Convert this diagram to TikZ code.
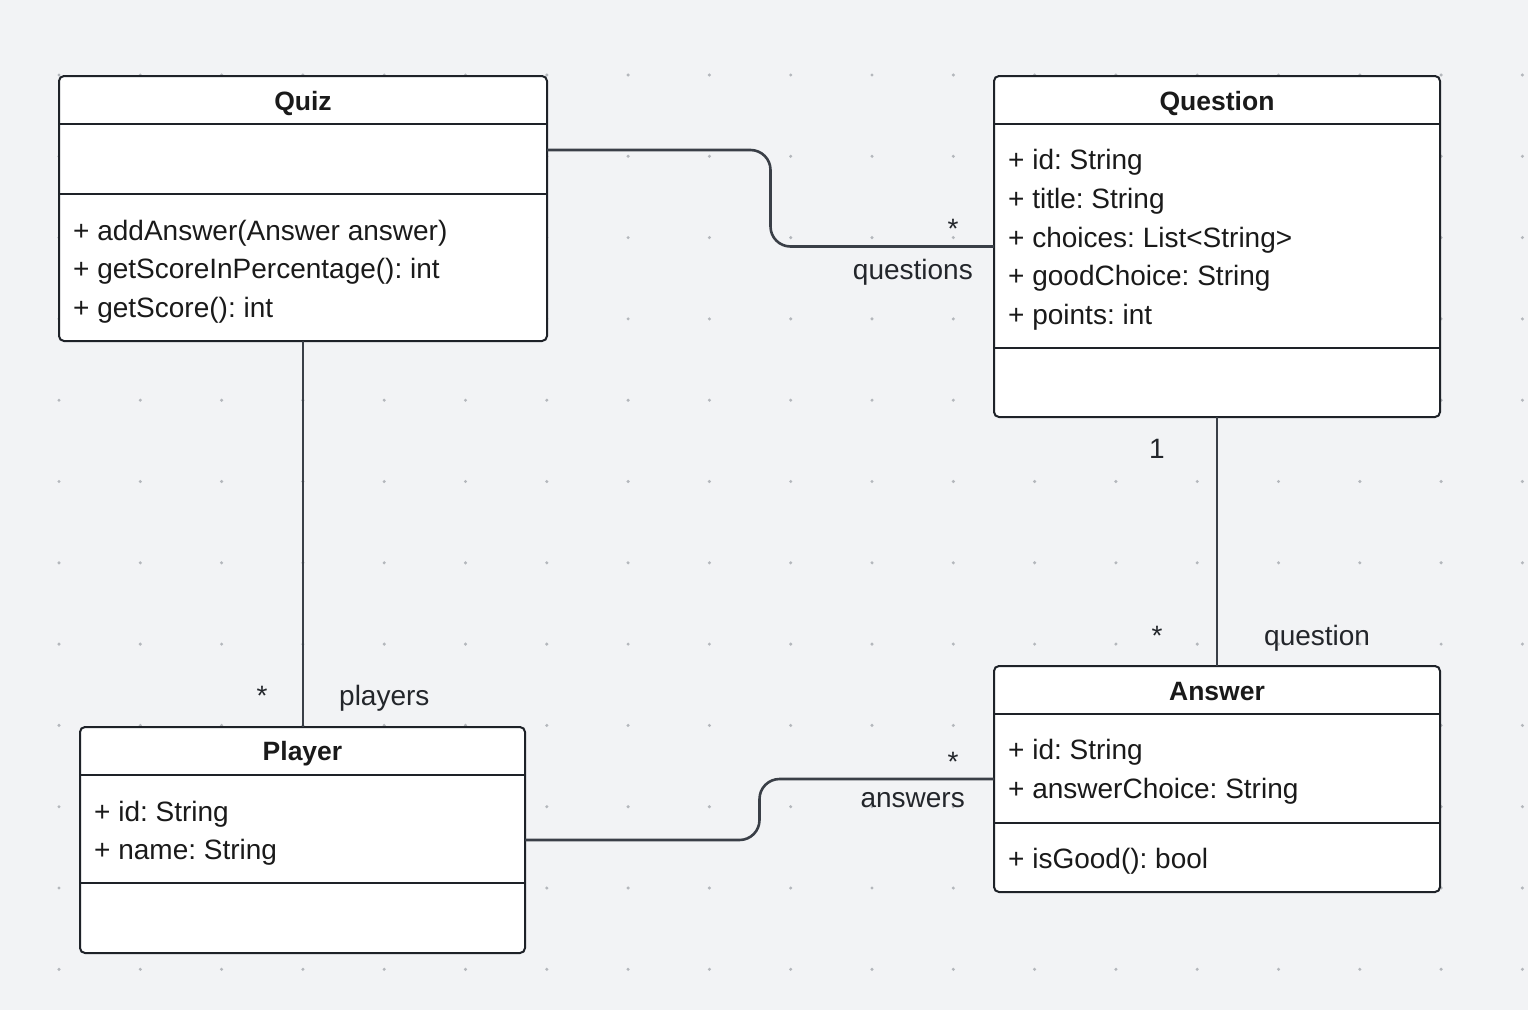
\documentclass[tikz,border=0pt]{standalone}
\usepackage{fontspec}
\setmainfont{Liberation Sans}
\usetikzlibrary{positioning,calc}
\frenchspacing
\definecolor{bgColor}{HTML}{F2F3F5}
\definecolor{dotColor}{HTML}{B4B7BC}
\definecolor{boxColor}{HTML}{1E2228}
\definecolor{lnColor}{HTML}{3A3F47}
\definecolor{txtColor}{HTML}{1A1A1A}
\tikzset{
	classbox/.style={draw=boxColor, fill=white, line width=2pt, rounded corners=5pt, inner sep=0, outer sep=0},
	sep/.style={draw=boxColor, line width=2pt},
	title/.style={anchor=base, inner sep=0, font=\fontsize{26.5}{30}\selectfont\bfseries, text=txtColor},
	member/.style={anchor=base west, inner sep=0, font=\fontsize{28}{34}\selectfont, text=txtColor},
	mult/.style={anchor=base, inner sep=0, font=\fontsize{28}{34}\selectfont, text=lnColor!60!black},
	assoc/.style={draw=lnColor, line width=2.6pt, rounded corners=20pt}
}

\begin{document}
\begin{tikzpicture}[x=1pt, y=-1pt]
	\fill[bgColor] (0,0) rectangle (1528,1010);
	\useasboundingbox (0,0) rectangle (1528,1010);
	\foreach \i in {0,...,18}
		\foreach \j in {0,...,11}
			\fill[dotColor] (59+81.3*\i, 75+81.3*\j) circle (1.7);
	% classes
	\node[classbox, minimum width=488, minimum height=265] (quiz) at (303,208.5) {};
	\draw[sep] ([yshift=-48pt]quiz.north west) -- ([yshift=-48pt]quiz.north east);
	\draw[sep] ([yshift=-118pt]quiz.north west) -- ([yshift=-118pt]quiz.north east);
	\node[title] (quizname) at (303,110) {Quiz};
	\node[member] (quizop1) at (73,240) {+ addAnswer(Answer answer)};
	\node[member] (quizop2) at (73,278.5) {+ getScoreInPercentage(): int};
	\node[member] (quizop3) at (73,317) {+ getScore(): int};

	\node[classbox, minimum width=446, minimum height=341] (question) at (1217,246.5) {};
	\draw[sep] ([yshift=-48pt]question.north west) -- ([yshift=-48pt]question.north east);
	\draw[sep] ([yshift=-272pt]question.north west) -- ([yshift=-272pt]question.north east);
	\node[title] (questionname) at (1217,110) {Question};
	\node[member] (questionat1) at (1008,169) {+ id: String};
	\node[member] (questionat2) at (1008,208) {+ title: String};
	\node[member] (questionat3) at (1008,247) {+ choices: List<String>};
	\node[member] (questionat4) at (1008,285) {+ goodChoice: String};
	\node[member] (questionat5) at (1008,324) {+ points: int};

	\node[classbox, minimum width=445, minimum height=226] (player) at (302.5,840) {};
	\draw[sep] ([yshift=-48pt]player.north west) -- ([yshift=-48pt]player.north east);
	\draw[sep] ([yshift=-156pt]player.north west) -- ([yshift=-156pt]player.north east);
	\node[title] (playername) at (302.5,760) {Player};
	\node[member] (playerat1) at (94,821) {+ id: String};
	\node[member] (playerat2) at (94,859.5) {+ name: String};

	\node[classbox, minimum width=446, minimum height=226] (answer) at (1217,779) {};
	\draw[sep] ([yshift=-48pt]answer.north west) -- ([yshift=-48pt]answer.north east);
	\draw[sep] ([yshift=-157pt]answer.north west) -- ([yshift=-157pt]answer.north east);
	\node[title] (answername) at (1217,700) {Answer};
	\node[member] (answerat1) at (1008,759.5) {+ id: String};
	\node[member] (answerat2) at (1008,798) {+ answerChoice: String};
	\node[member] (answerop1) at (1008,868) {+ isGood(): bool};

	% associations
	\coordinate (qz) at ([yshift=-74pt]quiz.north east);
	\coordinate (qzmid) at ($(qz)!.5!(question.west)$);
	\coordinate (plmid) at ($(player.east)!.5!(answer.west)$);
	\draw[assoc] (qz) -| (qzmid |- question.west) -- (question.west);
	\draw[assoc] (quiz.south) -- (quiz.south |- player.north);
	\draw[assoc] (question.south) -- (answer.north);
	\draw[assoc] (player.east) -| (plmid |- answer.west) -- (answer.west);

	\node[mult] (m1) at (953,238) {*};
	\node[mult, anchor=base east] (l1) at (973,279) {questions};
	\node[mult] (m2) at (262,705) {*};
	\node[mult, anchor=base west] (l2) at (339,705) {players};
	\node[mult] (m3) at (1157,458) {1};
	\node[mult] (m4) at (1157,645) {*};
	\node[mult, anchor=base west] (l3) at (1264,645) {question};
	\node[mult] (m5) at (953,771) {*};
	\node[mult, anchor=base east] (l4) at (965,807) {answers};
\end{tikzpicture}
\end{document}
